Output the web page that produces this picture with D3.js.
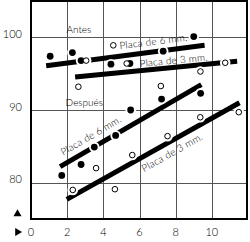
<!DOCTYPE html>
<html>
<head>
<meta charset="utf-8">
<script src="https://cdn.jsdelivr.net/npm/d3@7"></script>
<style>
  body { margin: 0; background: #fff; }
  svg { display: block; }
  text { font-family: Lato, 'Open Sans', sans-serif; font-weight: 300; fill: #000; }
</style>
</head>
<body>
<div id="chart"></div>
<script>
// values (x, y)
const xTicks = [0, 2, 4, 6, 8, 10]
const yTicks = [80, 90, 100]

const antesFilled = [[1.06, 97.4], [2.29, 97.9], [2.77, 96.8], [4.42, 96.3], [5.47, 96.4], [7.31, 98.1], [9.0, 100.1]]
const antesOpen = [[3.05, 96.8], [4.55, 98.9], [5.29, 96.4], [9.37, 95.3], [10.74, 96.5], [2.62, 93.2], [7.18, 93.3]]
const despuesFilled = [[1.7, 81.0], [2.77, 82.5], [3.5, 84.9], [4.68, 86.5], [5.51, 90.0], [7.22, 91.5], [9.38, 92.3]]
const despuesOpen = [[2.31, 79.0], [3.6, 82.0], [4.64, 79.1], [5.6, 83.8], [7.55, 86.4], [9.36, 89.0], [11.49, 89.7]]

// fitted lines, two ends each
const fitLines = [
  { name: 'antes6', ends: [[0.84, 96.1], [9.6, 98.9]] },
  { name: 'antes3', ends: [[2.44, 94.55], [11.4, 96.7]] },
  { name: 'despues6', ends: [[1.61, 82.2], [9.42, 93.5]] },
  { name: 'despues3', ends: [[1.98, 77.7], [11.53, 91.0]] },
]

// labels: text, line they follow, start point (data units)
const lineLabels = [
  { text: 'Placa de 6 mm.', line: 'antes6', at: [4.92, 98.35] },
  { text: 'Placa de 3 mm.', line: 'antes3', at: [6.03, 95.9] },
  { text: 'Placa de 6 mm.', line: 'despues6', at: [1.78, 83.7] },
  { text: 'Placa de 3 mm.', line: 'despues3', at: [6.25, 81.45] },
]
const groupLabels = [
  { text: 'Antes', at: [2.65, 100.6] },
  { text: 'Después', at: [2.95, 90.6] },
]

const width = 250
const height = 242

const x = d3.scaleLinear().domain([0, 12]).range([31, 248])
const y = d3.scaleLinear().domain([75, 105]).range([219, 1])

const svg = d3.select('#chart').append('svg')
  .attr('width', width)
  .attr('height', height)

// grid
svg.append('g')
  .selectAll('line')
  .data(xTicks.filter(d => d > 0))
  .join('line')
  .attr('x1', d => Math.round(x(d)) + 0.5)
  .attr('x2', d => Math.round(x(d)) + 0.5)
  .attr('y1', y(105))
  .attr('y2', y(75))
  .attr('stroke', '#555')

svg.append('g')
  .selectAll('line')
  .data(yTicks)
  .join('line')
  .attr('x1', x(0))
  .attr('x2', x(12))
  .attr('y1', d => Math.round(y(d)) + 0.5)
  .attr('y2', d => Math.round(y(d)) + 0.5)
  .attr('stroke', '#555')

// frame
svg.append('rect')
  .attr('x', x(0))
  .attr('y', y(105))
  .attr('width', x(12) - x(0) - 1)
  .attr('height', y(75) - y(105))
  .attr('fill', 'none')
  .attr('stroke', '#000')
  .attr('stroke-width', 2)

// tick labels
svg.append('g')
  .selectAll('text')
  .data(yTicks)
  .join('text')
  .attr('x', 22)
  .attr('y', d => y(d) + 0.5)
  .attr('text-anchor', 'end')
  .attr('font-size', 11)
  .text(d => d)

svg.append('g')
  .selectAll('text')
  .data(xTicks)
  .join('text')
  .attr('x', d => x(d))
  .attr('y', 236)
  .attr('text-anchor', 'middle')
  .attr('font-size', 11)
  .text(d => d)

// little axis markers
svg.append('path')
  .attr('d', d3.symbol(d3.symbolTriangle, 28)())
  .attr('transform', 'translate(17.5,214)')
svg.append('path')
  .attr('d', d3.symbol(d3.symbolTriangle, 28)())
  .attr('transform', 'translate(17.5,232) rotate(90)')

// thick fitted lines
svg.append('g')
  .selectAll('line')
  .data(fitLines)
  .join('line')
  .attr('x1', d => x(d.ends[0][0]))
  .attr('y1', d => y(d.ends[0][1]))
  .attr('x2', d => x(d.ends[1][0]))
  .attr('y2', d => y(d.ends[1][1]))
  .attr('stroke', '#000')
  .attr('stroke-width', 5)

// points, each with a white halo that cuts the lines
const filled = [...antesFilled, ...despuesFilled]
const open = [...antesOpen, ...despuesOpen]
const pts = svg.append('g')
pts.selectAll('.halo')
  .data([...filled, ...open])
  .join('circle')
  .attr('class', 'halo')
  .attr('cx', d => x(d[0]))
  .attr('cy', d => y(d[1]))
  .attr('r', 5.3)
  .attr('fill', '#fff')
pts.selectAll('.filled')
  .data(filled)
  .join('circle')
  .attr('class', 'filled')
  .attr('cx', d => x(d[0]))
  .attr('cy', d => y(d[1]))
  .attr('r', 3.4)
  .attr('fill', '#000')
pts.selectAll('.open')
  .data(open)
  .join('circle')
  .attr('class', 'open')
  .attr('cx', d => x(d[0]))
  .attr('cy', d => y(d[1]))
  .attr('r', 2.8)
  .attr('fill', '#fff')
  .attr('stroke', '#000')
  .attr('stroke-width', 1)

// labels along the lines
const angleOf = name => {
  const [a, b] = fitLines.find(l => l.name === name).ends
  return Math.atan2(y(b[1]) - y(a[1]), x(b[0]) - x(a[0])) * 180 / Math.PI
}
svg.append('g')
  .selectAll('text')
  .data(lineLabels)
  .join('text')
  .attr('transform', d => `translate(${x(d.at[0])},${y(d.at[1])}) rotate(${angleOf(d.line)})`)
  .attr('font-size', 10)
  .attr('letter-spacing', 0.2)
  .text(d => d.text)

svg.append('g')
  .selectAll('text')
  .data(groupLabels)
  .join('text')
  .attr('x', d => x(d.at[0]))
  .attr('y', d => y(d.at[1]))
  .attr('text-anchor', 'middle')
  .attr('font-size', 10)
  .text(d => d.text)
</script>
</body>
</html>
